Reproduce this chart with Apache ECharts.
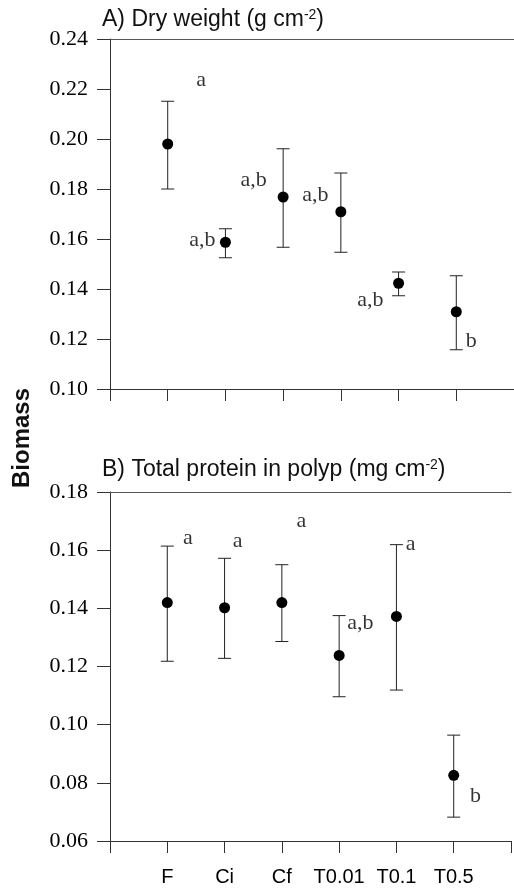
<!DOCTYPE html>
<html>
<head>
<meta charset="utf-8">
<script src="https://cdn.jsdelivr.net/npm/echarts@6/dist/echarts.min.js"></script>
<style>
  html, body { margin: 0; padding: 0; background: #fff; }
  #chart { width: 514px; height: 893px; }
</style>
</head>
<body>
<div id="chart"></div>
<script>
// treatment groups, placed at x = 1..6
const groups = ['F', 'Ci', 'Cf', 'T0.01', 'T0.1', 'T0.5'];

// A) dry weight (g cm-2)
const dryMean = [0.198, 0.1587, 0.1768, 0.1709, 0.1423, 0.1309];
const dryLow  = [0.180, 0.1525, 0.1567, 0.1547, 0.1373, 0.1157];
const dryHigh = [0.2151, 0.1641, 0.1961, 0.1864, 0.1468, 0.1453];
// significance letters: [x, y, text]
const dryLetters = [
  [1.58, 0.2235, 'a'],
  [1.60, 0.1595, 'a,b'],
  [2.49, 0.1835, 'a,b'],
  [3.56, 0.1775, 'a,b'],
  [4.51, 0.1355, 'a,b'],
  [6.26, 0.1190, 'b']
];

// B) total protein in polyp (mg cm-2)
const protMean = [0.1420, 0.1402, 0.1420, 0.1238, 0.1372, 0.0826];
const protLow  = [0.1218, 0.1228, 0.1286, 0.1096, 0.1119, 0.0682];
const protHigh = [0.1614, 0.1572, 0.1550, 0.1375, 0.1619, 0.0964];
const protLetters = [
  [1.36, 0.1640, 'a'],
  [2.23, 0.1632, 'a'],
  [3.34, 0.1698, 'a'],
  [4.37, 0.1350, 'a,b'],
  [5.25, 0.1620, 'a'],
  [6.38, 0.0753, 'b']
];

const yTicksA = { min: 0.10, max: 0.24, interval: 0.02 };
const yTicksB = { min: 0.06, max: 0.18, interval: 0.02 };

const serif = 'Liberation Serif, Times New Roman, serif';
const sans = 'Liberation Sans, Arial, sans-serif';
const axisColor = '#333';

const chart = echarts.init(document.getElementById('chart'));

function bottomAxis(gridIndex, showLabels) {
  return {
    type: 'value', gridIndex: gridIndex, position: 'bottom',
    min: 0, max: 7, interval: 1,
    axisLine: { show: true, onZero: false, lineStyle: { color: axisColor, width: 1 } },
    axisTick: { show: true, length: 12, lineStyle: { color: axisColor } },
    splitLine: { show: false },
    axisLabel: {
      show: showLabels, margin: 26,
      fontFamily: sans, fontSize: 20, color: '#000',
      formatter: v => groups[v - 1] || ''
    }
  };
}
function topAxis(gridIndex) {
  return {
    type: 'value', gridIndex: gridIndex, position: 'top',
    min: 0, max: 7,
    axisLine: { show: true, onZero: false, lineStyle: { color: '#555', width: 1 } },
    axisTick: { show: false }, axisLabel: { show: false }, splitLine: { show: false }
  };
}
function leftAxis(gridIndex, ticks) {
  return {
    type: 'value', gridIndex: gridIndex,
    min: ticks.min, max: ticks.max, interval: ticks.interval,
    axisLine: { show: true, onZero: false, lineStyle: { color: axisColor, width: 1 } },
    axisTick: { show: true, length: 13, lineStyle: { color: axisColor } },
    splitLine: { show: false },
    axisLabel: {
      margin: 22, fontFamily: serif, fontSize: 22, color: '#000',
      formatter: v => v.toFixed(2)
    }
  };
}

function errorBars(xAxisIndex, yAxisIndex, low, high) {
  return {
    type: 'custom', xAxisIndex: xAxisIndex, yAxisIndex: yAxisIndex,
    data: low.map((l, i) => [i + 1, l, high[i]]),
    encode: { x: 0, y: [1, 2] },
    renderItem: (params, api) => {
      const x = api.value(0);
      const lo = api.coord([x, api.value(1)]);
      const hi = api.coord([x, api.value(2)]);
      const w = 6.5;
      const st = { stroke: '#222', lineWidth: 1 };
      return {
        type: 'group',
        children: [
          { type: 'line', shape: { x1: lo[0], y1: lo[1], x2: hi[0], y2: hi[1] }, style: st },
          { type: 'line', shape: { x1: hi[0] - w, y1: hi[1], x2: hi[0] + w, y2: hi[1] }, style: st },
          { type: 'line', shape: { x1: lo[0] - w, y1: lo[1], x2: lo[0] + w, y2: lo[1] }, style: st }
        ]
      };
    },
    silent: true
  };
}
function means(xAxisIndex, yAxisIndex, vals) {
  return {
    type: 'scatter', xAxisIndex: xAxisIndex, yAxisIndex: yAxisIndex,
    data: vals.map((v, i) => [i + 1, v]),
    symbolSize: 11, itemStyle: { color: '#000', opacity: 1 }, z: 5
  };
}
function letters(xAxisIndex, yAxisIndex, list) {
  return {
    type: 'scatter', xAxisIndex: xAxisIndex, yAxisIndex: yAxisIndex,
    data: list.map(d => ({ value: [d[0], d[1]], name: d[2] })),
    symbolSize: 0,
    label: {
      show: true, position: 'inside', formatter: '{b}',
      fontFamily: serif, fontSize: 22, color: '#000'
    }
  };
}

const titleRich = {
  t: { fontFamily: sans, fontSize: 23, fontWeight: 'normal', fill: '#111', color: '#111' },
  s: { fontFamily: sans, fontSize: 14, fontWeight: 'normal', fill: '#111', color: '#111', verticalAlign: 'top', padding: [0, 0, 10, 0] }
};

function panelTitle(text, y) {
  return {
    type: 'text', x: 102, y: y,
    style: { text: text, rich: titleRich, align: 'left', verticalAlign: 'middle' }
  };
}

const option = {
  animation: false,
  graphic: [
    panelTitle('{t|A) Dry weight (g cm}{s|-2}{t|)}', 20),
    panelTitle('{t|B) Total protein in polyp (mg cm}{s|-2}{t|)}', 470),
    {
      type: 'text', x: 22, y: 438, rotation: Math.PI / 2,
      style: {
        text: 'Biomass', fontFamily: sans, fontWeight: 'bold', fontSize: 24,
        fill: '#111', align: 'center', verticalAlign: 'middle'
      }
    }
  ],
  grid: [
    { left: 110, top: 39, width: 407, height: 350 },
    { left: 110, top: 492, width: 407, height: 349 }
  ],
  xAxis: [bottomAxis(0, false), topAxis(0), bottomAxis(1, true), topAxis(1)],
  yAxis: [leftAxis(0, yTicksA), leftAxis(1, yTicksB)],
  series: [
    errorBars(0, 0, dryLow, dryHigh),
    means(0, 0, dryMean),
    letters(0, 0, dryLetters),
    errorBars(2, 1, protLow, protHigh),
    means(2, 1, protMean),
    letters(2, 1, protLetters)
  ]
};

chart.setOption(option);
</script>
</body>
</html>
